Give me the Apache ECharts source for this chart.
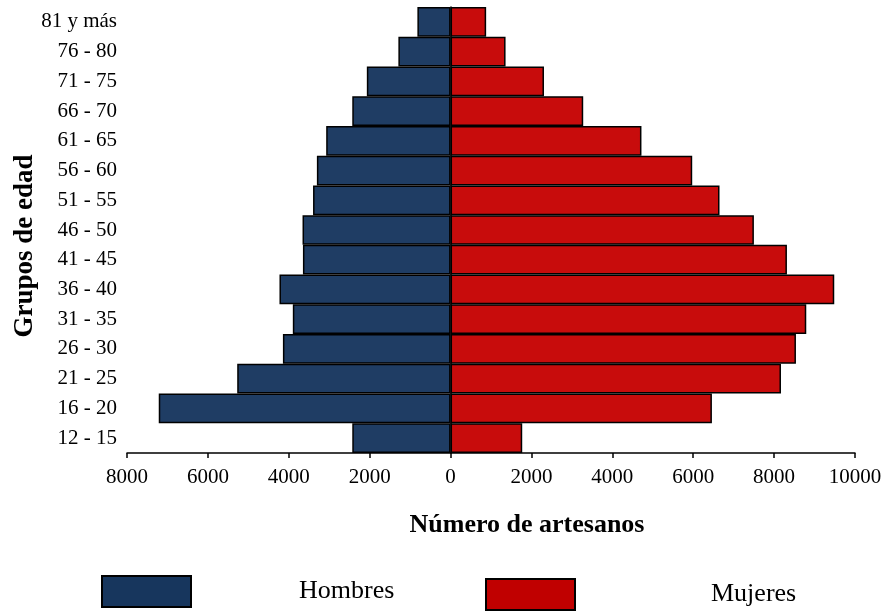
<!DOCTYPE html>
<html>
<head>
<meta charset="utf-8">
<script src="https://cdn.jsdelivr.net/npm/echarts@6/dist/echarts.min.js"></script>
<style>
html,body{margin:0;padding:0;background:#fff;}
#chart{width:886px;height:614px;}
</style>
</head>
<body>
<div id="chart"></div>
<script>
const categories = ['12 - 15','16 - 20','21 - 25','26 - 30','31 - 35','36 - 40','41 - 45','46 - 50','51 - 55','56 - 60','61 - 65','66 - 70','71 - 75','76 - 80','81 y más'];
const hombres = [2430, 7215, 5275, 4145, 3900, 4230, 3650, 3660, 3400, 3305, 3075, 2430, 2070, 1290, 820];
const mujeres = [1772, 6462, 8170, 8540, 8795, 9487, 8317, 7500, 6650, 5975, 4720, 3280, 2310, 1360, 880];
const xTicks = [-8000, -6000, -4000, -2000, 0, 2000, 4000, 6000, 8000, 10000];

const serif = '"Liberation Serif", "Times New Roman", serif';
const chart = echarts.init(document.getElementById('chart'));
chart.setOption({
  animation: false,
  backgroundColor: '#fff',
  grid: {left: 127, right: 31, top: 7, bottom: 161, containLabel: false},
  xAxis: {
    type: 'value',
    min: xTicks[0], max: xTicks[xTicks.length - 1], interval: 2000,
    axisLine: {show: true, lineStyle: {color: '#000', width: 1.5}},
    axisTick: {show: true, length: 5, lineStyle: {color: '#000', width: 1.5}},
    splitLine: {show: false},
    axisLabel: {
      color: '#000', fontFamily: serif, fontSize: 21, margin: 14,
      formatter: v => String(Math.abs(v))
    }
  },
  yAxis: {
    type: 'category',
    data: categories,
    axisLine: {show: true, lineStyle: {color: '#000', width: 1.5}},
    axisTick: {show: false},
    axisLabel: {color: '#000', fontFamily: serif, fontSize: 21, margin: 10}
  },
  legend: [
    {
      data: [{name: 'Hombres', icon: 'rect', itemStyle: {color: '#17365D', borderColor: '#000', borderWidth: 2}}],
      left: 96, top: 570, itemWidth: 89, itemHeight: 31,
      selectedMode: false,
      textStyle: {color: '#000', fontFamily: serif, fontSize: 26, padding: [10, 0, 0, 103]}
    },
    {
      data: [{name: 'Mujeres', icon: 'rect', itemStyle: {color: '#C00000', borderColor: '#000', borderWidth: 2}}],
      left: 480, top: 573, itemWidth: 89, itemHeight: 31,
      selectedMode: false,
      textStyle: {color: '#000', fontFamily: serif, fontSize: 26, padding: [6, 0, 0, 131]}
    }
  ],
  graphic: [
    {
      type: 'text', x: 527, y: 525,
      style: {
        text: 'Número de artesanos',
        align: 'center', verticalAlign: 'middle',
        fill: '#000', font: 'bold 26px ' + serif
      }
    },
    {
      type: 'text', x: 25, y: 246, rotation: Math.PI / 2,
      style: {
        text: 'Grupos de edad',
        align: 'center', verticalAlign: 'middle',
        fill: '#000', font: 'bold 27px ' + serif
      }
    }
  ],
  series: [
    {
      name: 'Hombres', type: 'bar', stack: 'total',
      barCategoryGap: 0, barGap: 0,
      data: hombres.map(v => -v),
      itemStyle: {color: '#1F3D64', borderColor: '#000', borderWidth: 1.5}
    },
    {
      name: 'Mujeres', type: 'bar', stack: 'total',
      barCategoryGap: 0, barGap: 0,
      data: mujeres,
      itemStyle: {color: '#C80C0C', borderColor: '#000', borderWidth: 1.5}
    }
  ]
});
</script>
</body>
</html>
